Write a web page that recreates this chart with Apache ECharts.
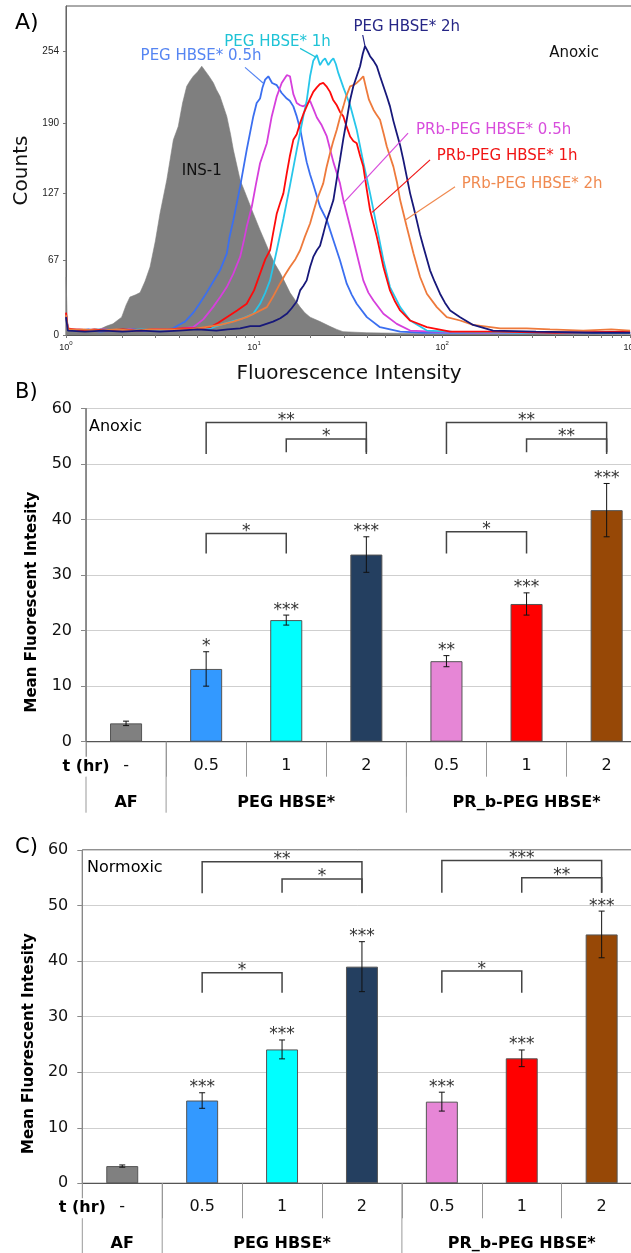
<!DOCTYPE html>
<html>
<head>
<meta charset="utf-8">
<script src="https://cdn.jsdelivr.net/npm/echarts@6.0.0/dist/echarts.min.js"></script>
<style>
  html, body { margin: 0; padding: 0; background: #fff; }
  #chart { width: 631px; height: 1253px; }
</style>
</head>
<body>
<div id="chart"></div>
<script>
const FONT = '"DejaVu Sans", Verdana, sans-serif';

// ---------- Panel A: flow cytometry histograms, [log10 intensity, counts] ----------
const ins1Curve = [[0,52],[0.008,6],[0.05,4],[0.1,5],[0.15,4],[0.19,6],[0.216,8],[0.25,10],[0.296,16],[0.32,27],[0.34,34],[0.37,36],[0.394,38],[0.42,48],[0.447,61],[0.475,84],[0.5,109],[0.536,139],[0.571,175],[0.597,187],[0.62,208],[0.642,223],[0.66,228],[0.677,232],[0.7,236],[0.722,241],[0.748,235],[0.765,231],[0.784,226],[0.8,220],[0.819,214],[0.855,196],[0.875,180],[0.89,166],[0.926,139],[0.961,124],[0.996,109],[1.032,94],[1.06,83],[1.085,73],[1.11,64],[1.138,56],[1.165,47],[1.191,38],[1.22,31],[1.245,25],[1.27,20],[1.298,16],[1.351,12],[1.4,8],[1.44,5],[1.473,3],[1.6,2],[2.0,1],[2.5,1],[3.0,1]];
const peg05Curve = [[0,18],[0.01,5],[0.06,4],[0.12,5],[0.18,3],[0.24,4],[0.3,4],[0.36,5],[0.42,4],[0.48,5],[0.53,5],[0.569,6],[0.6,9],[0.633,12],[0.677,20],[0.71,28],[0.748,38],[0.78,47],[0.819,58],[0.855,73],[0.87,88],[0.89,103],[0.926,133],[0.961,166],[0.996,196],[1.014,208],[1.032,212],[1.045,222],[1.059,229],[1.076,232],[1.096,226],[1.121,224],[1.147,217],[1.174,212],[1.19,210],[1.209,205],[1.227,196],[1.245,185],[1.262,170],[1.28,155],[1.298,144],[1.315,135],[1.351,115],[1.387,103],[1.422,85],[1.457,67],[1.493,46],[1.52,36],[1.546,28],[1.6,16],[1.67,7],[1.777,3],[1.9,2],[2.2,2],[2.6,2],[3.0,2]];
const prb05Curve = [[0,18],[0.01,5],[0.07,5],[0.13,4],[0.2,5],[0.27,4],[0.34,5],[0.41,4],[0.48,5],[0.553,4],[0.62,6],[0.676,7],[0.73,14],[0.782,25],[0.82,34],[0.855,43],[0.89,55],[0.926,70],[0.945,84],[0.961,97],[0.988,115],[1.01,135],[1.032,154],[1.05,163],[1.068,172],[1.094,196],[1.121,214],[1.147,226],[1.174,233],[1.191,232],[1.209,216],[1.227,208],[1.245,206],[1.262,205],[1.28,207],[1.298,210],[1.315,203],[1.334,195],[1.36,188],[1.387,178],[1.422,155],[1.457,136],[1.475,121],[1.511,97],[1.546,73],[1.581,49],[1.608,38],[1.635,31],[1.688,19],[1.759,10],[1.83,4],[1.95,3],[2.3,2],[2.7,2],[3.0,2]];
const peg1Curve = [[0,18],[0.01,5],[0.08,4],[0.16,5],[0.24,4],[0.32,4],[0.4,5],[0.48,4],[0.56,5],[0.64,5],[0.7,6],[0.766,6],[0.82,9],[0.88,12],[0.94,15],[0.996,19],[1.032,28],[1.06,38],[1.085,49],[1.1,60],[1.121,76],[1.156,104],[1.191,134],[1.227,166],[1.262,196],[1.28,210],[1.298,232],[1.315,246],[1.334,251],[1.351,242],[1.365,246],[1.378,248],[1.395,242],[1.41,246],[1.422,248],[1.435,243],[1.448,235],[1.475,222],[1.511,206],[1.546,184],[1.581,155],[1.617,127],[1.653,97],[1.688,67],[1.723,43],[1.777,25],[1.83,13],[1.919,4],[2.05,3],[2.4,2],[3.0,2]];
const prb1Curve = [[0,20],[0.01,6],[0.08,4],[0.15,5],[0.22,4],[0.3,5],[0.38,4],[0.46,5],[0.54,5],[0.62,6],[0.7,6],[0.766,7],[0.81,11],[0.855,16],[0.91,22],[0.961,28],[1.0,40],[1.032,55],[1.06,68],[1.085,76],[1.1,90],[1.121,109],[1.14,119],[1.156,127],[1.174,145],[1.19,160],[1.209,175],[1.227,180],[1.245,190],[1.262,198],[1.28,205],[1.298,212],[1.315,218],[1.334,222],[1.35,225],[1.368,226],[1.385,223],[1.404,218],[1.42,211],[1.44,206],[1.457,200],[1.475,196],[1.49,188],[1.511,178],[1.528,174],[1.546,172],[1.565,160],[1.581,151],[1.6,130],[1.617,112],[1.653,88],[1.688,61],[1.723,40],[1.75,30],[1.777,22],[1.83,13],[1.919,7],[2.043,3],[2.3,3],[2.6,2],[3.0,3]];
const prb2Curve = [[0,18],[0.01,5],[0.09,5],[0.18,4],[0.27,5],[0.36,4],[0.45,5],[0.54,5],[0.62,5],[0.66,5],[0.74,7],[0.819,9],[0.89,12],[0.961,16],[1.01,20],[1.068,25],[1.1,34],[1.138,46],[1.165,54],[1.191,61],[1.22,68],[1.245,76],[1.27,88],[1.298,100],[1.315,110],[1.334,121],[1.35,128],[1.368,136],[1.385,150],[1.404,163],[1.42,173],[1.44,184],[1.457,195],[1.475,205],[1.49,214],[1.511,223],[1.528,224],[1.546,226],[1.565,229],[1.581,232],[1.595,222],[1.611,211],[1.635,202],[1.65,198],[1.67,193],[1.69,180],[1.706,169],[1.741,151],[1.76,137],[1.777,121],[1.812,97],[1.848,73],[1.883,52],[1.919,37],[1.972,25],[2.025,16],[2.096,13],[2.165,9],[2.309,6],[2.45,6],[2.574,5],[2.75,4],[2.9,5],[3.0,4]];
const peg2Curve = [[0,16],[0.01,4],[0.1,3],[0.2,4],[0.3,3],[0.4,4],[0.5,3],[0.6,4],[0.7,5],[0.8,4],[0.86,5],[0.926,6],[0.98,8],[1.03,8],[1.101,12],[1.14,15],[1.174,19],[1.2,24],[1.227,30],[1.245,40],[1.262,44],[1.28,49],[1.298,61],[1.315,70],[1.334,76],[1.351,80],[1.37,92],[1.387,103],[1.405,112],[1.422,121],[1.44,140],[1.457,157],[1.475,176],[1.493,193],[1.51,210],[1.528,223],[1.546,232],[1.564,241],[1.578,252],[1.59,259],[1.603,255],[1.617,250],[1.635,246],[1.653,241],[1.67,232],[1.688,223],[1.706,214],[1.723,205],[1.741,192],[1.759,181],[1.777,170],[1.794,157],[1.812,142],[1.83,127],[1.848,115],[1.865,103],[1.883,90],[1.901,79],[1.936,58],[1.96,48],[1.989,37],[2.015,29],[2.043,22],[2.096,16],[2.165,9],[2.271,4],[2.5,3],[2.8,2],[3.0,2]];

const countTicks = [0, 67, 127, 190, 254];
const decadeTicks = [0, 1, 2, 3];

// ---------- Panels B and C: mean fluorescent intensity ----------
const barKeys = ['AF', 'PEG 0.5', 'PEG 1', 'PEG 2', 'PRb 0.5', 'PRb 1', 'PRb 2'];
const timeLabels = ['-', '0.5', '1', '2', '0.5', '1', '2'];
const groupNames = ['AF', 'PEG HBSE*', 'PR_b-PEG HBSE*'];
const groupSpans = [[0, 0], [1, 3], [4, 6]];

const anoxicMean  = [3.3, 13.1, 21.9, 33.7, 14.5, 24.8, 41.7];
const anoxicErr   = [0.4, 3.1, 0.9, 3.2, 1.0, 2.0, 4.8];
const anoxicStars = ['', '*', '***', '***', '**', '***', '***'];

const normoxicMean  = [3.1, 14.9, 24.1, 39.0, 14.7, 22.5, 44.8];
const normoxicErr   = [0.2, 1.4, 1.7, 4.5, 1.7, 1.5, 4.2];
const normoxicStars = ['', '***', '***', '***', '***', '***', '***'];

// pairwise comparisons: [from index, to index, significance]
const anoxicPairs   = [[1, 3, '**'], [2, 3, '*'], [1, 2, '*'], [4, 6, '**'], [5, 6, '**'], [4, 5, '*']];
const normoxicPairs = [[1, 3, '**'], [2, 3, '*'], [1, 2, '*'], [4, 6, '***'], [5, 6, '**'], [4, 5, '*']];

// ---------- styling / layout ----------
const barColors = ['#808080', '#3399ff', '#00ffff', '#243f60', '#e686d6', '#ff0000', '#974806'];
const curveStyles = [
  { data: ins1Curve,  color: '#7f7f7f', area: true },
  { data: peg05Curve, color: '#3b6ff0' },
  { data: prb05Curve, color: '#d63fdc' },
  { data: peg1Curve,  color: '#27c6ea' },
  { data: prb1Curve,  color: '#ff0a0a' },
  { data: prb2Curve,  color: '#ee7a3c' },
  { data: peg2Curve,  color: '#17187a' }
];
// curve captions with leader lines, placed in axis units
const curveNotes = [
  { text: 'PEG HBSE* 0.5h',     color: '#5585f2', at: [0.718, 250], from: [0.952, 240], to: [1.048, 226] },
  { text: 'PEG HBSE* 1h',       color: '#1fc3d6', at: [1.125, 263], from: [1.245, 257], to: [1.33, 249] },
  { text: 'PEG HBSE* 2h',       color: '#262686', at: [1.812, 276], from: [1.578, 269], to: [1.59, 259] },
  { text: 'Anoxic',             color: '#111111', at: [2.702, 253] },
  { text: 'PRb-PEG HBSE* 0.5h', color: '#d84ddc', at: [2.274, 184], from: [1.819, 181], to: [1.473, 118] },
  { text: 'PRb-PEG HBSE* 1h',   color: '#f01414', at: [2.346, 160], from: [1.936, 157], to: [1.628, 110] },
  { text: 'PRb-PEG HBSE* 2h',   color: '#f08a50', at: [2.479, 135], from: [2.069, 133], to: [1.803, 103] },
  { text: 'INS-1',              color: '#111111', at: [0.722, 147] }
];
// bracket heights (axis units): [bar height, leg end] for each comparison
const bracketRowsB = { '1-3': [57.5, 51.8], '2-3': [54.5, 52.1], '1-2': [37.5, 33.9], '4-6': [57.5, 51.8], '5-6': [54.5, 52.1], '4-5': [37.8, 33.9] };
const bracketRowsC = { '1-3': [57.9, 52.2], '2-3': [54.8, 52.3], '1-2': [37.9, 34.3], '4-6': [58.1, 52.3], '5-6': [55.0, 52.3], '4-5': [38.2, 34.3] };

const minorDecadeTicks = [];
for (let d = 0; d < 3; d++) {
  for (let k = 1; k < 10; k++) minorDecadeTicks.push(d + Math.log10(k));
}
minorDecadeTicks.push(3);

const chart = echarts.init(document.getElementById('chart'), null, { renderer: 'canvas' });

function barXAxis(gridIndex) {
  return {
    type: 'category', gridIndex, data: barKeys, boundaryGap: true,
    axisLine: { show: true, lineStyle: { color: '#555', width: 1 } },
    axisTick: { show: true, interval: 0, length: 35, alignWithLabel: false, lineStyle: { color: '#999', width: 1 } },
    axisLabel: { show: true, interval: 0, margin: 16, fontSize: 16, fontFamily: FONT, color: '#111',
                 formatter: (v, i) => timeLabels[i] },
    splitLine: { show: false }
  };
}
function barYAxis(gridIndex) {
  return {
    type: 'value', gridIndex, min: 0, max: 60, interval: 10,
    axisLine: { show: true, lineStyle: { color: '#888', width: 1 } },
    axisTick: { show: true, length: 5, lineStyle: { color: '#888' } },
    axisLabel: { fontSize: 16, fontFamily: FONT, color: '#111', margin: 14 },
    splitLine: { show: true, lineStyle: { color: '#cfcfcf', width: 1 } },
    name: 'Mean Fluorescent Intesity', nameLocation: 'middle', nameGap: 46, nameRotate: 90,
    nameTextStyle: { fontSize: 15, fontWeight: 'bold', fontFamily: FONT, color: '#000', padding: [0, 54, 0, 0] }
  };
}

function barSeries(gridIndex, means) {
  return {
    type: 'bar', xAxisIndex: gridIndex, yAxisIndex: gridIndex, barWidth: '40%',
    data: means.map((v, i) => ({ value: v, itemStyle: { color: barColors[i] } })),
    itemStyle: { borderColor: '#555', borderWidth: 1 },
    z: 3
  };
}

function errorSeries(gridIndex, means, errs, stars) {
  return {
    type: 'custom', xAxisIndex: gridIndex, yAxisIndex: gridIndex, z: 5,
    encode: { x: 0, y: 1 },
    data: means.map((m, i) => [i, m, errs[i]]),
    renderItem: (params, api) => {
      const i = api.value(0), m = api.value(1), e = api.value(2);
      const top = api.coord([i, m + e]), bot = api.coord([i, m - e]);
      const x = top[0], hw = 3;
      const st = { stroke: '#111', lineWidth: 1 };
      const children = [
        { type: 'line', shape: { x1: x, y1: top[1], x2: x, y2: bot[1] }, style: st },
        { type: 'line', shape: { x1: x - hw, y1: top[1], x2: x + hw, y2: top[1] }, style: st },
        { type: 'line', shape: { x1: x - hw, y1: bot[1], x2: x + hw, y2: bot[1] }, style: st }
      ];
      const s = stars[params.dataIndex];
      if (s) {
        children.push({ type: 'text', x: x, y: top[1] - 5,
          style: { text: s, fill: '#333', fontSize: 17, fontFamily: FONT, align: 'center', verticalAlign: 'middle' } });
      }
      return { type: 'group', children };
    }
  };
}

function bracketSeries(gridIndex, pairs, rows) {
  return {
    type: 'custom', xAxisIndex: gridIndex, yAxisIndex: gridIndex, z: 5,
    encode: { x: 0, y: 2 },
    data: pairs.map(p => [p[0], p[1], rows[p[0] + '-' + p[1]][0], rows[p[0] + '-' + p[1]][1]]),
    renderItem: (params, api) => {
      const a = api.value(0), b = api.value(1), h = api.value(2), leg = api.value(3);
      const l = api.coord([a, h]), r = api.coord([b, h]);
      const lb = api.coord([a, leg]), rb = api.coord([b, leg]);
      return {
        type: 'group', children: [
          { type: 'polyline', shape: { points: [[l[0], lb[1]], l, r, [r[0], rb[1]]] },
            style: { stroke: '#444', lineWidth: 1.5, fill: null } },
          { type: 'text', x: (l[0] + r[0]) / 2, y: l[1] - 2,
            style: { text: pairs[params.dataIndex][2], fill: '#333', fontSize: 17, fontFamily: FONT, align: 'center', verticalAlign: 'middle' } }
        ]
      };
    }
  };
}

function tableSeries(gridIndex) {
  return {
    type: 'custom', xAxisIndex: gridIndex, yAxisIndex: gridIndex, z: 6, clip: false,
    encode: { x: 0, y: 1 },
    data: groupSpans.map(g => [g[0], 0, g[1]]),
    renderItem: (params, api) => {
      const s = api.value(0), e = api.value(2);
      const y0 = api.coord([s, 0])[1];
      const bw = api.size([1, 0])[0];
      const xl = api.coord([s, 0])[0] - bw / 2;
      const xr = api.coord([e, 0])[0] + bw / 2;
      const children = [
        { type: 'line', shape: { x1: xl, y1: y0, x2: xl, y2: y0 + 71 }, style: { stroke: '#999', lineWidth: 1 } },
        { type: 'text', x: (xl + xr) / 2, y: y0 + 61,
          style: { text: groupNames[params.dataIndex], fill: '#000', fontSize: 16, fontWeight: 'bold', fontFamily: FONT, align: 'center', verticalAlign: 'middle' } }
      ];
      if (params.dataIndex === 0) {
        children.push({ type: 'text', x: xl, y: y0 + 25,
          style: { text: 't (hr)', fill: '#000', fontSize: 16, fontWeight: 'bold', fontFamily: FONT, align: 'center', verticalAlign: 'middle',
                   backgroundColor: '#fff', padding: [2, 1, 2, 1] } });
      }
      return { type: 'group', children };
    }
  };
}

const histSeries = curveStyles.map((c, idx) => ({
  type: 'line', xAxisIndex: 0, yAxisIndex: 0, data: c.data,
  showSymbol: false, symbol: 'none', smooth: false,
  lineStyle: { color: c.color, width: c.area ? 0.6 : 1.8 },
  itemStyle: { color: c.color },
  areaStyle: c.area ? { color: c.color, opacity: 1 } : undefined,
  z: 2 + idx * 0.01
}));

const noteSeries = {
  type: 'custom', xAxisIndex: 0, yAxisIndex: 0, z: 10,
  encode: { x: 0, y: 1 },
  data: curveNotes.map(n => n.at),
  renderItem: (params, api) => {
    const n = curveNotes[params.dataIndex];
    const p = api.coord(n.at);
    const children = [];
    if (n.from) {
      const a = api.coord(n.from), b = api.coord(n.to);
      children.push({ type: 'line', shape: { x1: a[0], y1: a[1], x2: b[0], y2: b[1] }, style: { stroke: n.color, lineWidth: 1.2 } });
    }
    children.push({ type: 'text', x: p[0], y: p[1],
      style: { text: n.text, fill: n.color, fontSize: 15, fontFamily: FONT, align: 'center', verticalAlign: 'middle' } });
    return { type: 'group', children };
  }
};

const option = {
  animation: false,
  backgroundColor: '#fff',
  grid: [
    { left: 66, top: 6, width: 566, height: 329, show: true, borderColor: '#555', borderWidth: 1, backgroundColor: 'transparent', outerBoundsMode: 'none' },
    { left: 86, top: 408.5, width: 560.7, height: 333.2, show: true, borderColor: '#222', borderWidth: 1, backgroundColor: 'transparent', outerBoundsMode: 'none' },
    { left: 82.3, top: 850, width: 559.3, height: 333.3, show: true, borderColor: '#222', borderWidth: 1, backgroundColor: 'transparent', outerBoundsMode: 'none' }
  ],
  xAxis: [
    {
      type: 'value', gridIndex: 0, min: 0, max: 3.01,
      axisLine: { show: true, lineStyle: { color: '#555' } },
      axisTick: { show: true, length: 3, customValues: minorDecadeTicks, lineStyle: { color: '#777' } },
      axisLabel: {
        show: true, customValues: decadeTicks, margin: 5, color: '#222',
        formatter: v => '{b|10}{s|' + v + '}',
        rich: {
          b: { fontSize: 9, fontFamily: '"Liberation Sans", Arial, sans-serif', color: '#222', verticalAlign: 'bottom', lineHeight: 12 },
          s: { fontSize: 6, fontFamily: '"Liberation Sans", Arial, sans-serif', color: '#222', verticalAlign: 'top', lineHeight: 12 }
        }
      },
      splitLine: { show: false },
      name: 'Fluorescence Intensity', nameLocation: 'middle', nameGap: 29,
      nameTextStyle: { fontSize: 20, fontFamily: FONT, color: '#111' }
    },
    barXAxis(1),
    barXAxis(2)
  ],
  yAxis: [
    {
      type: 'value', gridIndex: 0, min: 0, max: 295,
      axisLine: { show: true, lineStyle: { color: '#666' } },
      axisTick: { show: true, length: 3, customValues: countTicks, lineStyle: { color: '#777' } },
      axisLabel: { show: true, customValues: countTicks, margin: 7, fontSize: 10, fontFamily: '"Liberation Sans", Arial, sans-serif', color: '#222' },
      splitLine: { show: false },
      name: 'Counts', nameLocation: 'middle', nameGap: 28, nameRotate: 90,
      nameTextStyle: { fontSize: 20, fontFamily: FONT, color: '#111' }
    },
    barYAxis(1),
    barYAxis(2)
  ],
  graphic: [
    { type: 'text', left: 15, top: 12, style: { text: 'A)', fontSize: 22, fontFamily: FONT, fill: '#000' } },
    { type: 'text', left: 15, top: 382, style: { text: 'B)', fontSize: 21, fontFamily: FONT, fill: '#000' } },
    { type: 'text', left: 15, top: 837, style: { text: 'C)', fontSize: 21, fontFamily: FONT, fill: '#000' } },
    { type: 'text', left: 89, top: 419, style: { text: 'Anoxic', fontSize: 16, fontFamily: FONT, fill: '#000' } },
    { type: 'text', left: 87, top: 860, style: { text: 'Normoxic', fontSize: 16, fontFamily: FONT, fill: '#000' } }
  ],
  series: [
    ...histSeries,
    noteSeries,
    barSeries(1, anoxicMean),
    errorSeries(1, anoxicMean, anoxicErr, anoxicStars),
    bracketSeries(1, anoxicPairs, bracketRowsB),
    tableSeries(1),
    barSeries(2, normoxicMean),
    errorSeries(2, normoxicMean, normoxicErr, normoxicStars),
    bracketSeries(2, normoxicPairs, bracketRowsC),
    tableSeries(2)
  ]
};

chart.setOption(option);
</script>
</body>
</html>
